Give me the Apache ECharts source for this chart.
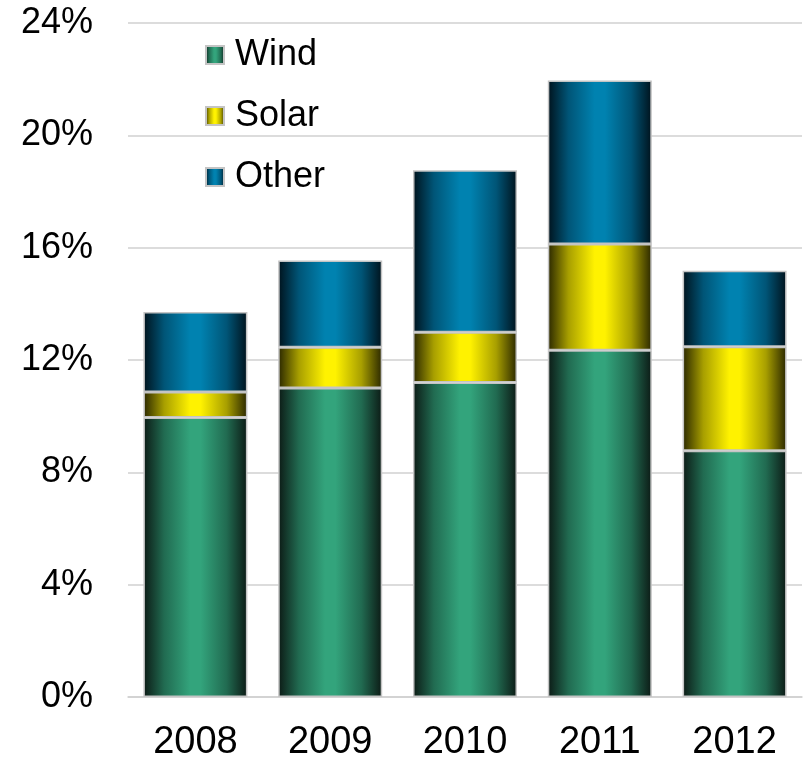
<!DOCTYPE html>
<html><head><meta charset="utf-8">
<script src="https://cdn.jsdelivr.net/npm/echarts@6/dist/echarts.min.js"></script>
<style>html,body{margin:0;padding:0;background:#fff}#c{width:804px;height:758px}</style>
</head><body><div id="c"></div>
<script>
var categories = ['2008', '2009', '2010', '2011', '2012'];
var windValues = [9.95, 11.0, 11.2, 12.35, 8.77];
var solarValues = [0.91, 1.45, 1.79, 3.78, 3.7];
var otherValues = [2.85, 3.09, 5.77, 5.82, 2.71];
var yTicks = { min: 0, max: 24, interval: 4 };

function grad(dark, mid, bright) {
  return new echarts.graphic.LinearGradient(0, 0, 1, 0, [
    { offset: 0, color: dark },
    { offset: 0.2, color: mid },
    { offset: 0.45, color: bright },
    { offset: 0.55, color: bright },
    { offset: 0.8, color: mid },
    { offset: 1, color: dark }
  ]);
}
var FONT = 'Liberation Sans, Arial, sans-serif';
function ser(name, data, fill) {
  return {
    name: name, type: 'bar', stack: 'total', data: data,
    barWidth: 104,
    itemStyle: { color: fill, borderColor: '#c4c4c4', borderWidth: 1.5 },
    emphasis: { disabled: true }
  };
}
var chart = echarts.init(document.getElementById('c'), null, { renderer: 'canvas' });
chart.setOption({
  animation: false,
  grid: { left: 128, right: 2, top: 23, bottom: 61, containLabel: false, outerBoundsMode: 'none' },
  legend: {
    orient: 'vertical', left: 205, top: 37, padding: 0,
    icon: 'rect',
    itemWidth: 18, itemHeight: 18, itemGap: 25,
    textStyle: { fontSize: 36, fontFamily: FONT, color: '#000', lineHeight: 36, padding: [0, 0, 0, 6] },
    data: ['Wind', 'Solar', 'Other']
  },
  xAxis: {
    type: 'category', data: categories,
    axisLine: { lineStyle: { color: '#d0d0d0', width: 1.5 } },
    axisTick: { show: false },
    axisLabel: { fontSize: 38, fontFamily: FONT, color: '#000', margin: 27 }
  },
  yAxis: {
    type: 'value', min: yTicks.min, max: yTicks.max, interval: yTicks.interval,
    axisLine: { show: false }, axisTick: { show: false },
    splitLine: { lineStyle: { color: '#d0d0d0', width: 1.5 } },
    axisLabel: { fontSize: 36, fontFamily: FONT, color: '#000', margin: 35, formatter: '{value}%' }
  },
  series: [
    ser('Wind', windValues, grad('#0c1a15', '#216b51', '#33a47c')),
    ser('Solar', solarValues, grad('#2a2700', '#a89f00', '#fff200')),
    ser('Other', otherValues, grad('#00121c', '#005577', '#0082b0'))
  ]
});
</script></body></html>
